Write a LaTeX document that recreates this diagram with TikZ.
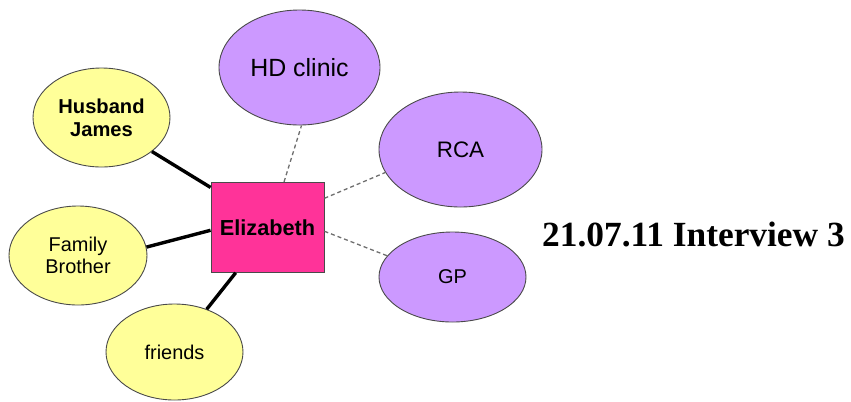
\documentclass[tikz,border=0pt]{standalone}
\usepackage{fontspec}
\setmainfont{Liberation Serif}
\setsansfont{Liberation Sans}
\usetikzlibrary{shapes.geometric}
\definecolor{kinfill}{HTML}{FFFF99}
\definecolor{servicefill}{HTML}{CC99FF}
\definecolor{selffill}{HTML}{FF3399}
\definecolor{rim}{HTML}{4A4A4A}
\definecolor{dashgray}{HTML}{6E6E6E}
\begin{document}
\begin{tikzpicture}[x=1bp,y=-1bp,
  bubble/.style={ellipse, draw=rim, line width=0.9bp, inner sep=0pt, align=center, text=black},
  kin/.style={bubble, fill=kinfill},
  service/.style={bubble, fill=servicefill},
  selfbox/.style={rectangle, draw=rim, line width=0.9bp, fill=selffill, inner sep=0pt},
  tie/.style={line width=3.4bp, black},
  link/.style={draw=dashgray, line width=1.3bp, dash pattern=on 4bp off 3bp}]
\useasboundingbox (0,0) rectangle (851,401);

% central person
\node[selfbox, minimum width=113bp, minimum height=90bp,
      font=\sffamily\bfseries\fontsize{21.8}{24}\selectfont] (eliz) at (267.5,227.3) {Elizabeth};

% informal network
\node[kin, minimum width=137bp, minimum height=99bp,
      font=\sffamily\bfseries\fontsize{20.2}{23}\selectfont] (husband) at (101.5,117.5) {Husband\\James};
\node[kin, minimum width=138bp, minimum height=99bp,
      font=\sffamily\fontsize{20}{22}\selectfont] (family) at (78,255.5) {Family\\Brother};
\node[kin, minimum width=137bp, minimum height=96bp,
      font=\sffamily\fontsize{20}{22}\selectfont] (friends) at (174.5,352) {friends};

% formal services
\node[service, minimum width=161bp, minimum height=115bp,
      font=\sffamily\fontsize{25}{28}\selectfont] (hd) at (299.5,67.5) {HD clinic};
\node[service, minimum width=163bp, minimum height=115bp,
      font=\sffamily\fontsize{22.5}{26}\selectfont] (rca) at (460.5,149.5) {RCA};
\node[service, minimum width=147bp, minimum height=90bp,
      font=\sffamily\fontsize{20}{24}\selectfont] (gp) at (452.5,277) {GP};

% title
\node[anchor=base west, inner sep=0pt,
      font=\rmfamily\bfseries\fontsize{35.5}{40}\selectfont] (title) at (542,246) {21.07.11 Interview 3};

% strong ties
\draw[tie] (eliz.145.9) -- (husband.-34.6);
\draw[tie] (eliz.183.7) -- (family.7);
\draw[tie] (eliz.235.4) -- (friends.53.8);

% weak ties
\draw[link] (eliz.70) -- (hd.-88.6);
\draw[link] (eliz.27.4) -- (rca.197.7);
\draw[link] (eliz.-4.8) -- (gp.162);
\end{tikzpicture}
\end{document}
